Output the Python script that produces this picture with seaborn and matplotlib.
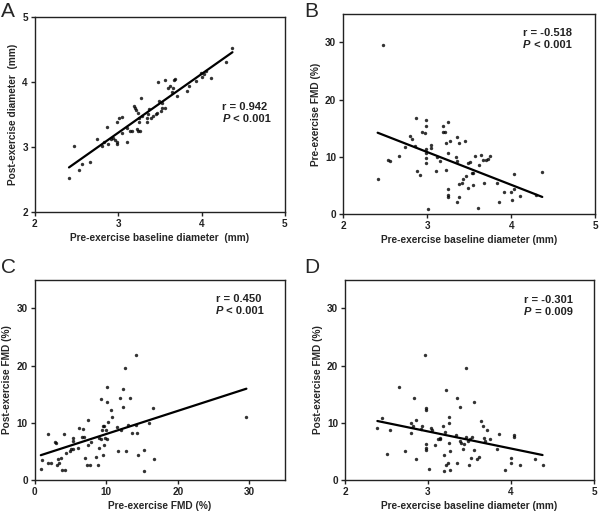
"""
plot.py - four scatter panels (A-D) with linear fits, diameter vs FMD.
"""

import numpy as np
import matplotlib
matplotlib.use("Agg")
import matplotlib.pyplot as plt
import seaborn as sns

# ------------------------------------------------------------------ #
#  Data                                           #
# ------------------------------------------------------------------ #
# Panel A: baseline diameter vs post-exercise diameter (mm)
a_x = [2.41, 2.47, 2.53, 2.56, 2.66, 2.74, 2.81, 2.83, 2.87, 2.88, 2.91, 2.94,
       2.96, 2.98, 2.98, 2.99, 3.01, 3.05, 3.05, 3.10, 3.11, 3.14, 3.17, 3.19,
       3.20, 3.21, 3.22, 3.24, 3.24, 3.25, 3.25, 3.26, 3.27, 3.28, 3.34, 3.35,
       3.36, 3.37, 3.39, 3.42, 3.45, 3.47, 3.48, 3.49, 3.51, 3.53, 3.53, 3.56,
       3.56, 3.60, 3.62, 3.64, 3.66, 3.67, 3.68, 3.71, 3.83, 3.85, 3.93, 3.99,
       4.01, 4.03, 4.05, 4.11, 4.29, 4.37]
a_y = [2.52, 3.02, 2.65, 2.74, 2.77, 3.12, 3.02, 3.07, 3.31, 3.05, 3.12, 3.14,
       3.11, 3.08, 3.05, 3.39, 3.45, 3.46, 3.21, 3.08, 3.29, 3.25, 3.25, 3.63,
       3.60, 3.57, 3.27, 3.25, 3.52, 3.45, 3.39, 3.24, 3.75, 3.48, 3.38, 3.45,
       3.50, 3.59, 3.45, 3.48, 3.50, 3.52, 4.00, 3.70, 3.55, 3.60, 3.68, 4.03,
       3.60, 3.90, 3.94, 3.84, 3.90, 4.03, 4.04, 3.78, 3.86, 3.93, 4.01, 4.14,
       4.08, 4.12, 4.17, 4.06, 4.30, 4.52]

# Panel B: baseline diameter (mm) vs pre-exercise FMD (%)
b_x = [2.41, 2.47, 2.53, 2.56, 2.67, 2.74, 2.79, 2.82, 2.85, 2.87, 2.88, 2.92,
       2.94, 2.97, 2.98, 2.98, 2.98, 2.98, 2.98, 2.98, 3.01, 3.05, 3.05, 3.10,
       3.12, 3.15, 3.19, 3.19, 3.21, 3.22, 3.22, 3.25, 3.25, 3.25, 3.25, 3.25,
       3.27, 3.34, 3.35, 3.35, 3.35, 3.38, 3.38, 3.38, 3.42, 3.43, 3.45, 3.46,
       3.49, 3.49, 3.51, 3.53, 3.54, 3.55, 3.57, 3.60, 3.62, 3.64, 3.66, 3.68,
       3.70, 3.72, 3.75, 3.83, 3.86, 3.92, 4.00, 4.01, 4.03, 4.03, 4.11, 4.29,
       4.37]
b_y = [6.2, 29.5, 9.5, 9.3, 10.1, 11.7, 13.6, 13.1, 11.9, 16.8, 7.6, 6.8,
       14.3, 14.2, 16.5, 15.4, 11.4, 10.6, 9.8, 9.0, 0.9, 12.1, 11.5, 7.5,
       10.0, 9.2, 15.4, 14.4, 14.3, 12.5, 7.7, 16.1, 10.7, 4.3, 3.4, 3.0,
       12.8, 10.0, 13.5, 9.2, 2.1, 12.5, 5.3, 2.9, 5.5, 6.1, 12.8, 6.6,
       8.9, 4.6, 9.1, 7.1, 7.1, 5.0, 10.1, 1.1, 8.6, 10.3, 9.5, 5.4,
       9.4, 9.6, 10.1, 5.5, 2.1, 3.8, 3.8, 2.5, 4.3, 7.0, 3.2, 3.3,
       7.4]

# Panel C: pre-exercise FMD (%) vs post-exercise FMD (%)
c_x = [0.84, 1.0, 1.9, 1.9, 2.3, 2.8, 3.0, 3.1, 3.2, 3.4, 3.7, 3.8, 4.1, 4.2,
       4.4, 4.9, 5.1, 5.3, 5.4, 5.4, 6.2, 6.1, 6.6, 6.8, 6.9, 7.0, 7.3, 7.4,
       7.5, 7.7, 7.9, 8.6, 8.8, 9.0, 9.0, 9.2, 9.3, 9.4, 9.5, 9.6, 9.7, 9.7,
       9.8, 10.0, 10.1, 10.1, 10.2, 10.1, 10.7, 10.8, 11.5, 11.6, 11.9, 12.0,
       12.4, 12.4, 12.6, 12.8, 13.1, 13.3, 13.6, 14.1, 14.2, 14.3, 14.4, 15.3,
       15.3, 16.0, 16.5, 16.7, 29.6]
c_y = [2.0, 3.5, 8.1, 3.0, 3.0, 6.7, 6.5, 2.6, 3.6, 3.0, 3.9, 1.7, 8.1, 1.7,
       4.8, 5.1, 5.4, 6.8, 7.4, 5.5, 9.1, 5.6, 7.6, 9.0, 7.5, 3.8, 2.6, 6.2,
       10.5, 2.6, 6.7, 4.0, 2.6, 5.6, 7.4, 14.2, 7.1, 8.7, 4.4, 9.5, 6.1, 9.5,
       7.4, 8.8, 16.2, 13.6, 10.2, 7.1, 12.3, 11.1, 9.2, 5.1, 14.3, 8.8,
       12.8, 15.9, 19.6, 5.0, 9.6, 14.3, 8.2, 21.9, 9.6, 8.3, 4.3, 1.6,
       5.3, 9.9, 12.6, 3.6, 11.0]

# Panel D: baseline diameter (mm) vs post-exercise FMD (%)
d_x = [2.39, 2.45, 2.51, 2.54, 2.65, 2.72, 2.79, 2.80, 2.82, 2.83, 2.86, 2.86,
       2.91, 2.93, 2.96, 2.97, 2.97, 2.97, 2.97, 2.98, 3.01, 3.04, 3.05, 3.09,
       3.12, 3.14, 3.15, 3.18, 3.19, 3.19, 3.21, 3.22, 3.22, 3.24, 3.25, 3.25,
       3.25, 3.26, 3.27, 3.34, 3.35, 3.35, 3.38, 3.38, 3.40, 3.42, 3.43, 3.46,
       3.46, 3.48, 3.49, 3.50, 3.52, 3.53, 3.55, 3.55, 3.59, 3.61, 3.64, 3.66,
       3.67, 3.69, 3.71, 3.75, 3.83, 3.86, 3.93, 4.00, 4.00, 4.04, 4.04, 4.11,
       4.29, 4.38]
d_y = [9.1, 10.8, 4.5, 8.8, 16.2, 5.1, 9.9, 8.3, 9.5, 14.3, 10.5, 3.6,
       8.9, 9.5, 21.9, 12.6, 12.3, 6.3, 5.6, 5.2, 2.0, 9.1, 8.7, 6.1,
       7.2, 7.2, 7.4, 9.5, 4.4, 1.6, 8.4, 15.8, 2.6, 2.9, 11.1, 9.9,
       6.5, 1.7, 5.0, 7.9, 14.3, 3.0, 12.8, 6.8, 6.5, 5.5, 6.3, 19.6,
       7.6, 6.8, 2.6, 7.1, 3.8, 7.5, 5.3, 13.6, 3.6, 4.0, 10.4, 9.5,
       7.4, 6.8, 8.8, 7.1, 5.4, 8.0, 1.7, 3.8, 3.0, 7.9, 7.6, 2.6,
       3.6, 2.6]

# ------------------------------------------------------------------ #
#  Style                                                              #
# ------------------------------------------------------------------ #
sns.set_style("ticks")
plt.rcParams["font.family"] = ["Liberation Sans", "DejaVu Sans"]
plt.rcParams["font.weight"] = "bold"
plt.rcParams["axes.labelweight"] = "bold"
plt.rcParams["axes.edgecolor"] = "#222222"
plt.rcParams["axes.linewidth"] = 1.0
plt.rcParams["xtick.major.size"] = 3
plt.rcParams["ytick.major.size"] = 3
plt.rcParams["xtick.color"] = "#222222"
plt.rcParams["ytick.color"] = "#222222"

fig = plt.figure(figsize=(6, 5.12), dpi=100)

panels = [
    # letter, letter pos, rect, x, y, xlim, ylim, xticks, yticks,
    # xlabel, ylabel, r, p, text pos
    ("A", (0.002, 0.997), [0.058, 0.586, 0.417, 0.381], a_x, a_y,
     (2, 5), (2, 5), [2, 3, 4, 5], [2, 3, 4, 5],
     "Pre-exercise baseline diameter  (mm)", "Post-exercise diameter  (mm)",
     "r = 0.942", " < 0.001", (0.75, 0.54)),
    ("B", (0.507, 0.997), [0.572, 0.582, 0.420, 0.391], b_x, b_y,
     (2, 5), (0, 35), [2, 3, 4, 5], [0, 10, 20, 30],
     "Pre-exercise baseline diameter (mm)", "Pre-exercise FMD (%)",
     "r = -0.518", " < 0.001", (0.714, 0.905)),
    ("C", (0.002, 0.497), [0.058, 0.0625, 0.417, 0.391], c_x, c_y,
     (0, 35), (0, 35), [0, 10, 20, 30], [0, 10, 20, 30],
     "Pre-exercise FMD (%)", "Post-exercise FMD (%)",
     "r = 0.450", " < 0.001", (0.724, 0.905)),
    ("D", (0.507, 0.497), [0.575, 0.0625, 0.415, 0.391], d_x, d_y,
     (2, 5), (0, 35), [2, 3, 4, 5], [0, 10, 20, 30],
     "Pre-exercise baseline diameter (mm)", "Post-exercise FMD (%)",
     "r = -0.301", " = 0.009", (0.72, 0.90)),
]

for (letter, lpos, rect, x, y, xlim, ylim, xt, yt, xlab, ylab,
     r_txt, p_txt, tpos) in panels:
    ax = fig.add_axes(rect)
    sns.regplot(x=np.array(x), y=np.array(y), ax=ax, ci=None, truncate=True,
                scatter_kws=dict(s=6, color="black", linewidths=0),
                line_kws=dict(color="black", lw=1.6))
    ax.set_xlim(*xlim)
    ax.set_ylim(*ylim)
    ax.set_xticks(xt)
    ax.set_yticks(yt)
    ax.tick_params(labelsize=7.2, width=1.0, pad=2)
    ax.set_xlabel(xlab, fontsize=7.3, labelpad=3)
    ax.set_ylabel(ylab, fontsize=7.3, labelpad=3)
    for s in ax.spines.values():
        s.set_visible(True)

    # r and P annotation
    tx, ty = tpos
    ax.text(tx, ty, r_txt, transform=ax.transAxes, fontsize=8,
            fontweight="bold", va="center", ha="left", color="#222222")
    pt = ax.text(tx, ty - 0.063, "P", transform=ax.transAxes, fontsize=8,
                 fontweight="bold", style="italic", va="center", ha="left",
                 color="#222222")
    ax.annotate(p_txt, xy=(1, 0), xycoords=pt, va="bottom", ha="left",
                fontsize=8, fontweight="bold", color="#222222")

    # panel letter
    fig.text(lpos[0], lpos[1], letter, fontsize=15, fontweight="normal",
             va="top", ha="left")

fig.savefig("out.png", dpi=100)
